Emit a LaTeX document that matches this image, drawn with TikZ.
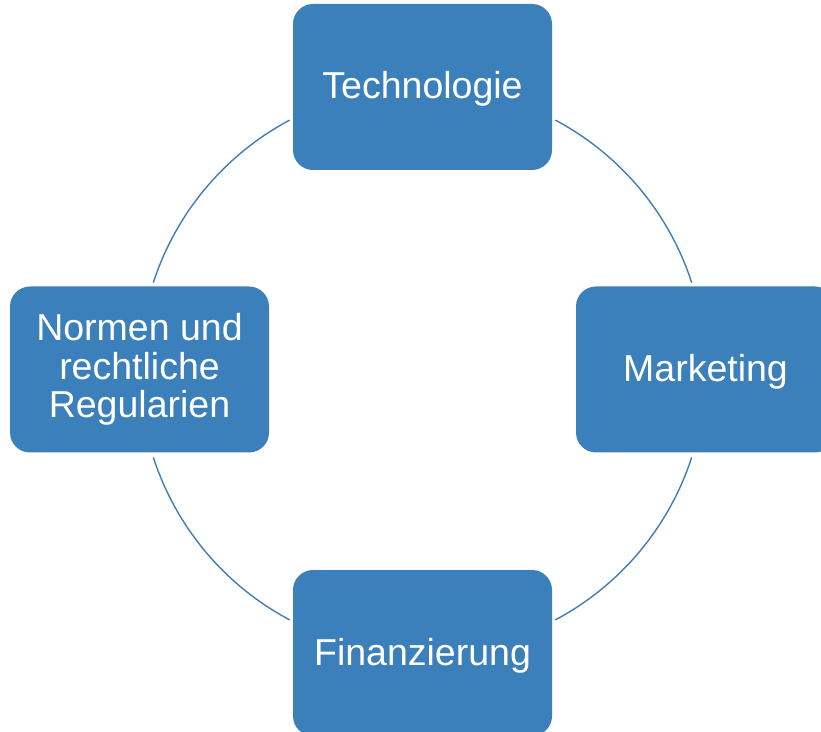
\documentclass[tikz,border=0pt]{standalone}
\usepackage{fontspec}
\setmainfont{Liberation Sans}
\definecolor{boxblue}{HTML}{3B80BA}
\definecolor{lineblue}{HTML}{3E7DB5}
\begin{document}
\begin{tikzpicture}[x=1pt,y=1pt,
  cyclebox/.style={fill=boxblue, rounded corners=20pt, minimum width=259pt, minimum height=166pt,
    text=white, align=center, inner sep=0pt, font=\fontsize{37.5}{38.5}\selectfont},
  oneline/.style={text height=27pt, text depth=3pt},
  cycleline/.style={draw=lineblue, line width=1.4pt}]
\useasboundingbox (0,0) rectangle (821,731);
\clip (0,0) rectangle (821,731);
\coordinate (c) at (422.5,361);
\node[cyclebox,oneline] (top) at (422.5,644) {Technologie};
\node[cyclebox,oneline] (right) at (705.5,361.5) {Marketing};
\node[cyclebox,oneline] (bottom) at (422.5,78) {Finanzierung};
\node[cyclebox] (left) at (139.5,361.5) {Normen und\\rechtliche\\Regularien};
\foreach \a in {18,118,198,298}{
  \draw[cycleline] ([shift={(\a:283)}]c) arc[start angle=\a, end angle=\a+44, radius=283];
}
\end{tikzpicture}
\end{document}
